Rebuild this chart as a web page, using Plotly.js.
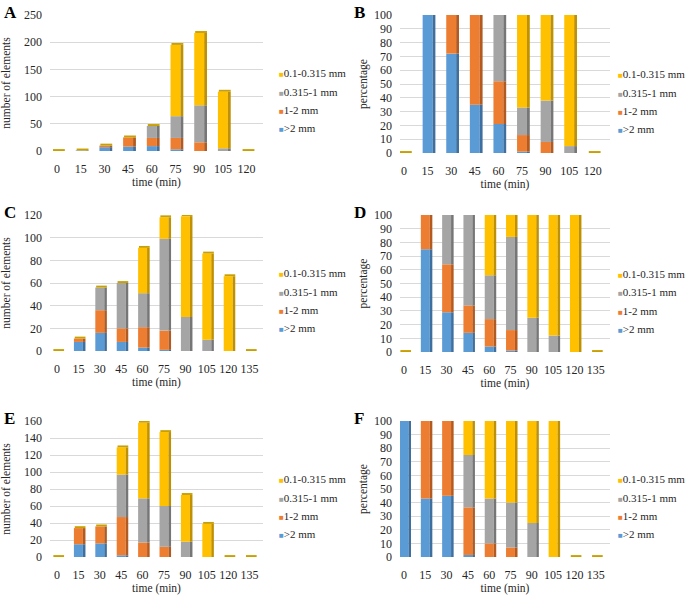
<!DOCTYPE html>
<html>
<head>
<meta charset="utf-8">
<script src="https://cdn.plot.ly/plotly-3.0.1.min.js"></script>
<style>
  body { margin: 0; background: #fff; }
  #myDiv { width: 685px; height: 596px; }
</style>
</head>
<body>
<div id="myDiv"></div>
<script>
var times9 = ['0', '15', '30', '45', '60', '75', '90', '105', '120'];
var times10 = ['0', '15', '30', '45', '60', '75', '90', '105', '120', '135'];
var sizeNames = ['>2 mm', '1-2 mm', '0.315-1 mm', '0.1-0.315 mm'];

// A - number of elements
var aGt2 = [0, 1, 7, 8, 9, 3, 0, 0, 0];
var a12 = [0, 0, 3, 17, 15, 21, 16, 0, 0];
var a0315 = [0, 0, 0, 0, 22, 40, 68, 5, 0];
var a01 = [0, 0, 0, 0, 0, 131, 133, 104, 0];

// B - percentage
var bGt2 = [0, 100, 72, 35, 21, 1, 0, 0, 0];
var b12 = [0, 0, 28, 65, 31, 12, 8, 0, 0];
var b0315 = [0, 0, 0, 0, 48, 20, 30, 5, 0];
var b01 = [0, 0, 0, 0, 0, 67, 62, 95, 0];

// C - number of elements
var cGt2 = [0, 8, 16, 8, 3, 1, 0, 0, 0, 0];
var c12 = [0, 3, 20, 12, 18, 17, 0, 0, 0, 0];
var c0315 = [0, 0, 20, 40, 30, 81, 30, 10, 0, 0];
var c01 = [0, 0, 0, 0, 40, 19, 89, 76, 66, 0];

// D - percentage
var dGt2 = [0, 75, 29, 14, 4, 1, 0, 0, 0, 0];
var d12 = [0, 25, 35, 20, 20, 15, 0, 0, 0, 0];
var d0315 = [0, 0, 36, 66, 32, 68, 25, 12, 0, 0];
var d01 = [0, 0, 0, 0, 44, 16, 75, 88, 100, 0];

// E - number of elements
var eGt2 = [0, 15, 16, 2, 0, 0, 0, 0, 0, 0];
var e12 = [0, 19, 20, 45, 17, 12, 0, 0, 0, 0];
var e0315 = [0, 0, 0, 50, 52, 48, 18, 0, 0, 0];
var e01 = [0, 0, 0, 32, 89, 87, 55, 39, 0, 0];

// F - percentage
var fGt2 = [100, 43, 45, 1.5, 0, 0, 0, 0, 0, 0];
var f12 = [0, 57, 55, 35, 10, 7, 0, 0, 0, 0];
var f0315 = [0, 0, 0, 38.5, 33, 33, 25, 0, 0, 0];
var f01 = [0, 0, 0, 25, 57, 60, 75, 100, 0, 0];

var frontColors = ['#5B9BD5', '#ED7D31', '#A5A5A5', '#FFC000'];
var sideColors = ['#3F6F9E', '#B25A1F', '#767676', '#BF9000'];
var capColor = '#C9A000';
var textColor = '#262626';
var serif = '"Liberation Serif", "Times New Roman", serif';

var panels = [
    {letter: 'A', cats: times9, series: [aGt2, a12, a0315, a01], ymax: 250, dtick: 50, ytitle: 'number of elements'},
    {letter: 'B', cats: times9, series: [bGt2, b12, b0315, b01], ymax: 100, dtick: 10, ytitle: 'percentage'},
    {letter: 'C', cats: times10, series: [cGt2, c12, c0315, c01], ymax: 120, dtick: 20, ytitle: 'number of elements'},
    {letter: 'D', cats: times10, series: [dGt2, d12, d0315, d01], ymax: 100, dtick: 10, ytitle: 'percentage'},
    {letter: 'E', cats: times10, series: [eGt2, e12, e0315, e01], ymax: 160, dtick: 20, ytitle: 'number of elements'},
    {letter: 'F', cats: times10, series: [fGt2, f12, f0315, f01], ymax: 100, dtick: 10, ytitle: 'percentage'}
];

// pixel boxes of each plot area (left, right, top, bottom)
var boxes = [
    [50, 263, 15, 151], [400, 610, 15, 153],
    [50, 263, 215, 351], [400, 610, 215, 352],
    [50, 263, 421, 557], [400, 610, 421, 557]
];
var W = 685, H = 596;

var data = [];
var layout = {
    width: W, height: H,
    margin: {l: 0, r: 0, t: 0, b: 0},
    paper_bgcolor: '#ffffff',
    plot_bgcolor: 'rgba(0,0,0,0)',
    barmode: 'overlay',
    showlegend: false,
    font: {family: serif, size: 12, color: textColor},
    annotations: []
};

panels.forEach(function (p, k) {
    var n = k + 1;
    var xa = 'x' + (n === 1 ? '' : n);
    var ya = 'y' + (n === 1 ? '' : n);
    var box = boxes[k];
    var isLeft = (k % 2 === 0);

    // stack bases
    var cum = p.cats.map(function () { return 0; });
    var bases = [];
    p.series.forEach(function (vals) {
        bases.push(cum.slice());
        cum = cum.map(function (c, j) { return c + vals[j]; });
    });
    var capH = p.ymax * 0.014;

    // front faces
    p.series.forEach(function (vals, i) {
        data.push({
            type: 'bar', x: p.cats, y: vals, base: bases[i],
            offset: -0.21, width: 0.42, name: sizeNames[i],
            marker: {color: frontColors[i], line: {width: 0}},
            xaxis: xa, yaxis: ya
        });
    });
    // side faces
    p.series.forEach(function (vals, i) {
        data.push({
            type: 'bar', x: p.cats, y: vals, base: bases[i],
            offset: 0.21, width: 0.12, name: sizeNames[i],
            marker: {color: sideColors[i], line: {width: 0}},
            xaxis: xa, yaxis: ya
        });
    });
    // top faces
    data.push({
        type: 'bar', x: p.cats, y: cum.map(function () { return capH; }), base: cum,
        offset: -0.17, width: 0.5,
        marker: {color: capColor, line: {width: 0}},
        xaxis: xa, yaxis: ya
    });

    var nc = p.cats.length;
    var step = isLeft ? (nc === 9 ? 23.7 : 21.4) : (nc === 9 ? 23.6 : 21.3);
    var first = isLeft ? 57 : 404;
    var r0 = (box[0] - first) / step;
    var r1 = r0 + (box[1] - box[0]) / step;

    layout['xaxis' + (n === 1 ? '' : n)] = {
        domain: [box[0] / W, box[1] / W],
        anchor: ya,
        type: 'category',
        range: [r0, r1],
        showgrid: false, zeroline: false, showline: false,
        ticks: '', ticklabelstandoff: 9,
        tickfont: {family: serif, size: 12, color: textColor},
        title: {text: 'time (min)', font: {family: serif, size: 11.5, color: textColor}, standoff: 2}
    };
    layout['yaxis' + (n === 1 ? '' : n)] = {
        domain: [1 - box[3] / H, 1 - box[2] / H],
        anchor: xa,
        range: [0, p.ymax],
        dtick: p.dtick,
        showgrid: true, gridcolor: '#D9D9D9', gridwidth: 1,
        zeroline: false, showline: false,
        ticks: '', ticklabelstandoff: 7,
        tickfont: {family: serif, size: 12, color: textColor},
        title: {text: p.ytitle, font: {family: serif, size: 11.5, color: textColor}, standoff: isLeft ? 12 : 3}
    };

    // panel letter
    layout.annotations.push({
        xref: 'paper', yref: 'paper',
        x: (isLeft ? 2 : 352) / W, y: 1 - (box[2] - 14) / H,
        xanchor: 'left', yanchor: 'top',
        text: '<b>' + p.letter + '</b>', showarrow: false,
        font: {family: serif, size: 17, color: '#000'}
    });

    // legend (top entry = last series)
    var legX = isLeft ? 277 : 616;
    var legTop = box[2] + (box[3] - box[2]) * 0.43;
    for (var i = 3; i >= 0; i--) {
        var row = 3 - i;
        layout.annotations.push({
            xref: 'paper', yref: 'paper',
            x: legX / W, y: 1 - (legTop + row * 18.3) / H,
            xanchor: 'left', yanchor: 'middle',
            text: '<span style="color:' + frontColors[i] + ';font-size:8px">■</span>' + sizeNames[i].replace('>', '&gt;'),
            showarrow: false,
            font: {family: serif, size: 11, color: textColor}
        });
    }
});

Plotly.newPlot('myDiv', data, layout, {displayModeBar: false, staticPlot: true});
</script>
</body>
</html>
